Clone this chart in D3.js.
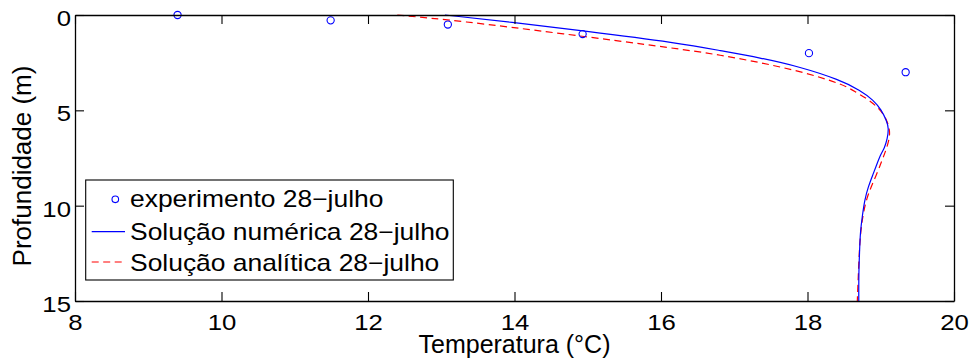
<!DOCTYPE html>
<html>
<head>
<meta charset="utf-8">
<script src="https://cdn.jsdelivr.net/npm/d3@7"></script>
<style>
  body { margin: 0; background: #fff; }
  svg { display: block; }
  text { font-family: "Liberation Sans", Arial, Helvetica, sans-serif; fill: #000; }
</style>
</head>
<body>
<svg id="chart" width="971" height="361"></svg>
<script>
// Axis ticks
const xTicks = [8, 10, 12, 14, 16, 18, 20];
const yTicks = [0, 5, 10, 15];

// Measured profile (28 July): temperature (°C) vs depth (m)
const expTemp  = [9.40, 11.49, 13.09, 14.93, 18.02, 19.34];
const expDepth = [0.00, 0.28, 0.50, 1.00, 2.00, 3.00];

// Numerical solution
const numTemp  = [13.05, 14.00, 14.92, 16.26, 16.81, 17.35, 17.90, 18.44, 18.72, 18.90, 19.01, 19.08, 19.11, 19.09, 19.05, 19.00, 18.95, 18.89, 18.83, 18.78, 18.75, 18.72, 18.71, 18.70, 18.70];
const numDepth = [0.00, 0.40, 0.82, 1.48, 1.87, 2.24, 2.72, 3.40, 3.95, 4.46, 4.98, 5.55, 5.94, 6.50, 7.00, 7.30, 7.80, 8.40, 9.00, 9.70, 10.50, 11.40, 12.50, 13.50, 15.00];

// Analytical solution
const anaTemp  = [12.40, 13.26, 14.62, 16.26, 16.81, 17.35, 17.90, 18.48, 18.66, 18.84, 18.99, 19.08, 19.13, 19.11, 19.07, 19.02, 18.95, 18.87, 18.81, 18.76, 18.72, 18.70, 18.68];
const anaDepth = [0.00, 0.31, 0.96, 1.78, 2.10, 2.49, 2.95, 3.62, 4.05, 4.45, 4.95, 5.45, 6.10, 6.60, 7.10, 7.60, 8.30, 9.00, 9.60, 10.40, 11.50, 13.00, 15.00];

const legendLabels = ["experimento 28\u2212julho", "Solução numérica 28\u2212julho", "Solução analítica 28\u2212julho"];
const xLabel = "Temperatura (°C)";
const yLabel = "Profundidade (m)";

const svg = d3.select("#chart");
const x = d3.scaleLinear().domain([8, 20]).range([75, 954]);
const y = d3.scaleLinear().domain([0, 15]).range([15, 301]);

const TICK = 9;
const SX = 1.17; // horizontal stretch of tick/legend lettering

const zip = (a, b) => a.map((v, i) => [v, b[i]]);
const line = d3.line().x(d => x(d[0])).y(d => y(d[1])).curve(d3.curveBasis);

// data layers
const plot = svg.append("g");
plot.append("path")
  .attr("d", line(zip(anaTemp, anaDepth)))
  .attr("fill", "none").attr("stroke", "#ff0000").attr("stroke-width", 1.2)
  .attr("stroke-dasharray", "7,4.5");
plot.append("path")
  .attr("d", line(zip(numTemp, numDepth)))
  .attr("fill", "none").attr("stroke", "#0000ff").attr("stroke-width", 1.2);
plot.selectAll("circle.exp").data(zip(expTemp, expDepth)).join("circle")
  .attr("class", "exp")
  .attr("cx", d => x(d[0])).attr("cy", d => y(d[1])).attr("r", 3.6)
  .attr("fill", "none").attr("stroke", "#0000ff").attr("stroke-width", 1.1);

// axes (inward ticks on all four sides, box outline)
function styleAxis(g) {
  g.attr("font-size", 22).attr("font-family", null);
  g.selectAll("path.domain").attr("stroke", "#000").attr("stroke-width", 1.3);
  g.selectAll(".tick line").attr("stroke", "#000").attr("stroke-width", 1.1);
}
const gB = svg.append("g").attr("transform", `translate(0,${y(15)})`)
  .call(d3.axisBottom(x).tickValues(xTicks).tickSize(-TICK).tickSizeOuter(0).tickPadding(0));
styleAxis(gB);
gB.selectAll(".tick text").attr("y", 0).attr("dy", null)
  .attr("transform", `translate(0,29) scale(${SX},1)`);

const gT = svg.append("g").attr("transform", `translate(0,${y(0)})`)
  .call(d3.axisTop(x).tickValues(xTicks).tickSize(-TICK).tickSizeOuter(0).tickFormat(() => ""));
styleAxis(gT);

const gL = svg.append("g").attr("transform", `translate(${x(8)},0)`)
  .call(d3.axisLeft(y).tickValues(yTicks).tickSize(-TICK).tickSizeOuter(0));
styleAxis(gL);
gL.selectAll(".tick text").attr("x", 0).attr("dy", null)
  .attr("transform", `translate(-4,10.5) scale(${SX},1)`);

const gR = svg.append("g").attr("transform", `translate(${x(20)},0)`)
  .call(d3.axisRight(y).tickValues(yTicks).tickSize(-TICK).tickSizeOuter(0).tickFormat(() => ""));
styleAxis(gR);

// axis titles
svg.append("text")
  .attr("transform", `translate(${(x(8) + x(20)) / 2},353)`)
  .attr("text-anchor", "middle").attr("font-size", 25).text(xLabel);
svg.append("text")
  .attr("transform", `translate(31,166) rotate(-90)`)
  .attr("text-anchor", "middle").attr("font-size", 26).text(yLabel);

// legend
const lg = svg.append("g");
lg.append("rect").attr("x", 85.7).attr("y", 180).attr("width", 367.6).attr("height", 100)
  .attr("fill", "#fff").attr("stroke", "#000").attr("stroke-width", 1.1);
lg.append("circle").attr("cx", 115.3).attr("cy", 199.3).attr("r", 3.3)
  .attr("fill", "none").attr("stroke", "#0000ff").attr("stroke-width", 1.1);
lg.append("line").attr("x1", 91.7).attr("x2", 125).attr("y1", 231.7).attr("y2", 231.7)
  .attr("stroke", "#0000ff").attr("stroke-width", 1.2);
lg.append("line").attr("x1", 91.7).attr("x2", 125).attr("y1", 262).attr("y2", 262)
  .attr("stroke", "#ff0000").attr("stroke-width", 1.2).attr("stroke-dasharray", "7,4.5");
const baselines = [206.5, 239.5, 271];
lg.selectAll("text.lab").data(legendLabels).join("text")
  .attr("class", "lab")
  .attr("transform", (d, i) => `translate(130,${baselines[i]}) scale(1.15,1)`)
  .attr("font-size", 23).text(d => d);
</script>
</body>
</html>
